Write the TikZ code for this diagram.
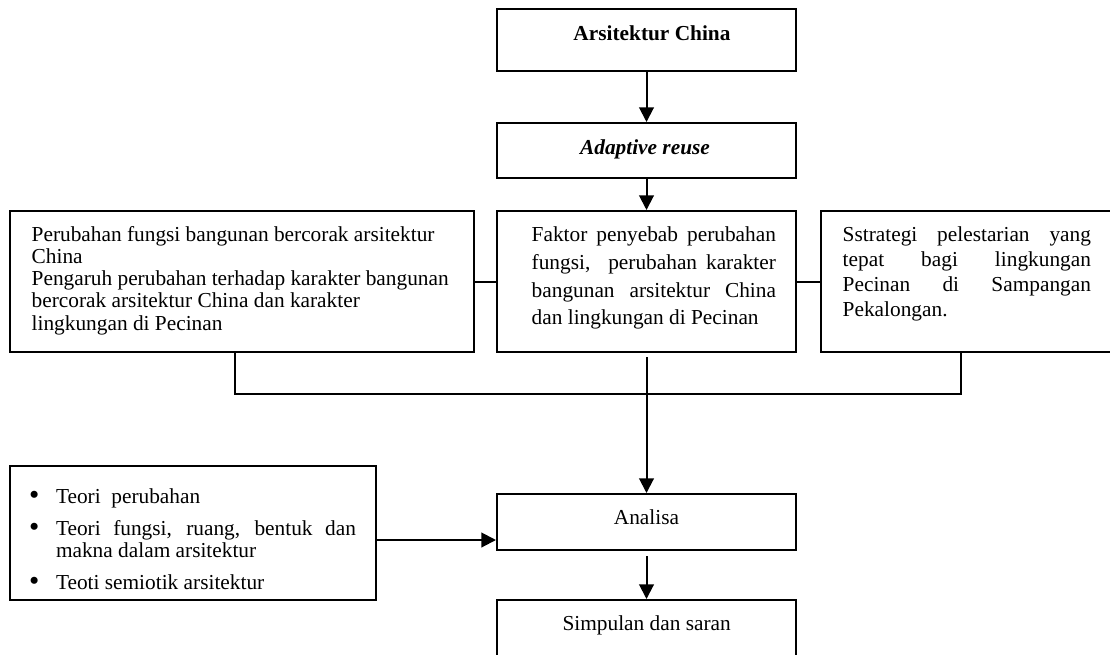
\documentclass[tikz,border=0pt]{standalone}
\usepackage{fontspec}
\setmainfont{Liberation Serif}
\usetikzlibrary{arrows.meta}
\hyphenpenalty=10000
\tolerance=10000

\tikzset{every picture/.style={line width=1.5pt}}
\tikzset{
  kotak/.style={draw, inner sep=0pt},
  teks/.style={inner sep=0pt, font=\fontsize{16}{19}\selectfont},
  panah/.style={-{Triangle[length=11pt,width=11pt]}}
}
\newcommand{\butir}{\leavevmode\llap{\raisebox{-1pt}{\fontsize{22}{22}\selectfont\textbullet}\hspace{12.5pt}}}

\begin{document}
\begin{tikzpicture}[x=0.75pt,y=0.75pt,yscale=-1,xscale=1]
    \useasboundingbox (0,0) rectangle (1110,654);

    % Boxes
    \node [kotak, minimum width=224.25pt, minimum height=46.5pt] (arsitektur) at (646.5,40) {};
    \node [kotak, minimum width=224.25pt, minimum height=41.25pt] (adaptive) at (646.5,150.5) {};
    \node [kotak, minimum width=348pt, minimum height=105.75pt] (perubahan) at (242,281.5) {};
    \node [kotak, minimum width=224.25pt, minimum height=105.75pt] (faktor) at (646.5,281.5) {};
    \node [kotak, minimum width=228pt, minimum height=105.75pt] (strategi) at (973,281.5) {};
    \node [kotak, minimum width=274.5pt, minimum height=100.5pt] (teori) at (193,533) {};
    \node [kotak, minimum width=224.25pt, minimum height=42pt] (analisa) at (646.5,522) {};
    \node [kotak, minimum width=224.25pt, minimum height=52.5pt] (simpulan) at (646.5,635) {};

    % Text Node
    \node [teks, anchor=base] (tArsitektur) at (652,40.5) {\textbf{Arsitektur China}};
    % Text Node
    \node [teks, anchor=base] (tAdaptive) at (645,154) {\textbf{\textit{Adaptive reuse}}};
    % Text Node
    \node [teks, anchor=base west] (tPerubahan) at (30.7,241) {\parbox[t]{400pt}{\raggedright\baselineskip=16.7pt
      Perubahan fungsi bangunan bercorak arsitektur\\
      China\\
      Pengaruh perubahan terhadap karakter bangunan\\
      bercorak arsitektur China dan karakter\\
      lingkungan di Pecinan}};
    % Text Node
    \node [teks, anchor=base west] (tFaktor) at (530.7,241.7) {\parbox[t]{183.2pt}{\baselineskip=20.8pt
      Faktor penyebab perubahan\linebreak
      fungsi,\ \ perubahan karakter\linebreak
      bangunan arsitektur China\linebreak
      dan lingkungan di Pecinan}};
    % Text Node
    \node [teks, anchor=base west] (tStrategi) at (841.7,241.7) {\parbox[t]{186.2pt}{\baselineskip=18.6pt
      Sstrategi pelestarian yang\linebreak
      tepat bagi lingkungan\linebreak
      Pecinan di Sampangan\linebreak
      Pekalongan.}};
    % Text Node
    \node [teks, anchor=base west] (tTeori) at (55,503) {\parbox[t]{225pt}{\baselineskip=16.5pt\parskip=7.5pt
      \butir Teori\ \ perubahan\par
      \butir Teori fungsi, ruang, bentuk dan\linebreak
      makna dalam arsitektur\par
      \butir Teoti semiotik arsitektur}};
    % Text Node
    \node [teks, anchor=base] (tAnalisa) at (646.5,524) {Analisa};
    % Text Node
    \node [teks, anchor=base] (tSimpulan) at (646.7,630) {Simpulan dan saran};

    %Straight Lines
    \draw [panah] (arsitektur) -- (adaptive);
    \draw [panah] (adaptive) -- (faktor);
    \draw (perubahan) -- (faktor);
    \draw (faktor) -- (strategi);
    \coordinate (belokKiri) at (235,394);
    \coordinate (belokKanan) at (961,394);
    \draw (perubahan.south -| belokKiri) -- (belokKiri) -- (belokKanan) -- (strategi.south -| belokKanan);
    \draw [panah, shorten <=3pt] (faktor) -- (analisa);
    \draw [panah] (teori.east |- 0,540) -- (analisa.west |- 0,540);
    \draw [panah, shorten <=3.75pt] (analisa) -- (simpulan);
\end{tikzpicture}
\end{document}
